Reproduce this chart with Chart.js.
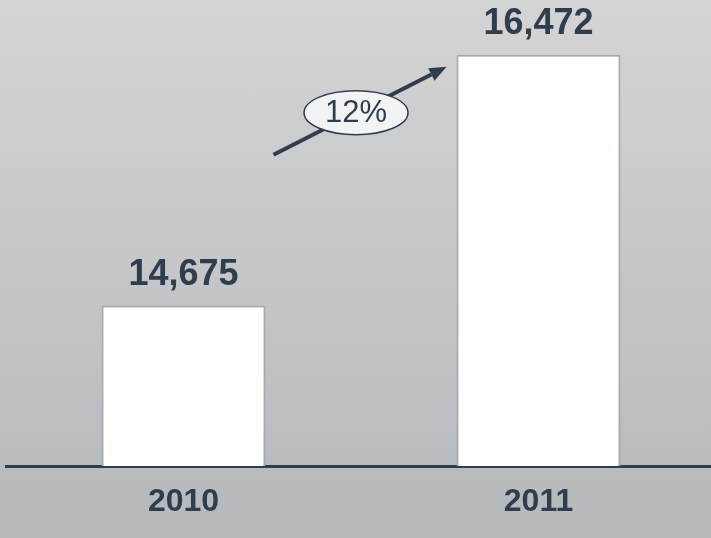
<!DOCTYPE html>
<html>
<head>
<meta charset="utf-8">
<script src="https://cdn.jsdelivr.net/npm/chart.js@4.4.0/dist/chart.umd.min.js"></script>
<style>
    html, body { margin: 0; padding: 0; overflow: hidden; }
    body {
        width: 711px;
        height: 538px;
        background: linear-gradient(to bottom, #d4d4d4 0%, #b8bbbe 90%, #b7babd 100%);
    }
    #wrap { position: relative; width: 716px; height: 538px; }
</style>
</head>
<body>
<div id="wrap"><canvas id="growthChart"></canvas></div>
<script>
// Chart data
const years = ['2010', '2011'];
const totals = [14675, 16472];
const axisMin = 13525;
const axisMax = 16864;

const DARK = '#2f3d4e';
const FONT = '"Liberation Sans", Arial, sans-serif';

// Value labels + growth arrow drawn on top of the bars
const overlayPlugin = {
    id: 'overlay',
    afterDatasetsDraw(chart) {
        const ctx = chart.ctx;
        const bars = chart.getDatasetMeta(0).data;
        ctx.save();

        // value labels above bars
        ctx.fillStyle = DARK;
        ctx.font = 'bold 36px ' + FONT;
        ctx.textAlign = 'center';
        ctx.textBaseline = 'alphabetic';
        bars.forEach((bar, i) => {
            ctx.fillText(totals[i].toLocaleString('en-US'), bar.x, bar.y - 21);
        });

        // growth arrow between the bars
        const b1 = bars[0], b2 = bars[1];
        const x0 = b1.x + b1.width / 2 + 8, y0 = b2.y + 100;
        const x1 = b2.x - b2.width / 2 - 10, y1 = b2.y + 12;
        const ang = Math.atan2(y1 - y0, x1 - x0);
        const headLen = 17, headW = 7;
        const bx = x1 - headLen * Math.cos(ang), by = y1 - headLen * Math.sin(ang);

        ctx.strokeStyle = DARK;
        ctx.lineWidth = 4;
        ctx.beginPath();
        ctx.moveTo(x0, y0);
        ctx.lineTo(bx, by);
        ctx.stroke();

        ctx.fillStyle = DARK;
        ctx.beginPath();
        ctx.moveTo(x1, y1);
        ctx.lineTo(bx + headW * Math.sin(ang), by - headW * Math.cos(ang));
        ctx.lineTo(bx - headW * Math.sin(ang), by + headW * Math.cos(ang));
        ctx.closePath();
        ctx.fill();

        // ellipse with growth percentage
        const t = 0.477;
        const cx = x0 + (x1 - x0) * t, cy = y0 + (y1 - y0) * t;
        ctx.beginPath();
        ctx.ellipse(cx, cy, 52, 22, 0, 0, Math.PI * 2);
        ctx.fillStyle = '#f3f3f3';
        ctx.fill();
        ctx.lineWidth = 1.5;
        ctx.strokeStyle = DARK;
        ctx.stroke();

        const growth = Math.round((totals[1] / totals[0] - 1) * 100) + '%';
        ctx.fillStyle = DARK;
        ctx.font = '31px ' + FONT;
        ctx.textBaseline = 'middle';
        ctx.fillText(growth, cx, cy + 1);

        ctx.restore();
    }
};

const ctx = document.getElementById('growthChart').getContext('2d');
new Chart(ctx, {
    type: 'bar',
    data: {
        labels: years,
        datasets: [{
            data: totals,
            backgroundColor: '#ffffff',
            borderColor: '#a9a9a9',
            borderWidth: 2,
            borderSkipped: 'bottom',
            barPercentage: 0.462,
            categoryPercentage: 1
        }]
    },
    options: {
        responsive: true,
        maintainAspectRatio: false,
        animation: false,
        layout: { padding: { left: 6, right: 0, top: 0, bottom: 0 } },
        plugins: {
            legend: { display: false },
            tooltip: { enabled: false }
        },
        scales: {
            x: {
                z: 1,
                grid: { display: false, drawTicks: false },
                border: { display: true, color: DARK, width: 3 },
                ticks: {
                    color: DARK,
                    padding: 20,
                    font: { family: FONT, size: 32, weight: 'bold', lineHeight: 1 }
                }
            },
            y: {
                display: false,
                min: axisMin,
                max: axisMax
            }
        }
    },
    plugins: [overlayPlugin]
});
</script>
</body>
</html>
